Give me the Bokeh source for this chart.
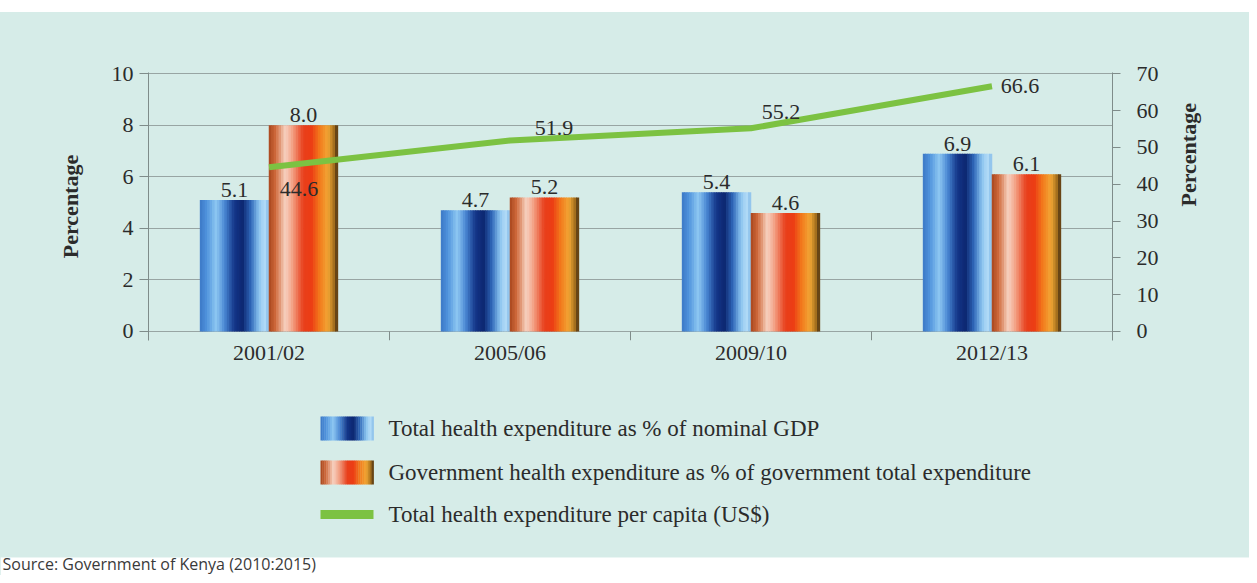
import math
import numpy as np
from bokeh.plotting import figure
from bokeh.models import FactorRange, Range1d, LinearAxis, FixedTicker, ColumnDataSource
from bokeh.transform import dodge
from bokeh.layouts import column, row, Spacer
from bokeh.core.properties import value
from bokeh.embed import file_html
from bokeh.resources import INLINE

# ---------------- data ----------------
years = ["2001/02", "2005/06", "2009/10", "2012/13"]
gdp_share = [5.1, 4.7, 5.4, 6.9]          # Total health expenditure as % of nominal GDP
gov_share = [8.0, 5.2, 4.6, 6.1]          # Government health exp. as % of gov. total exp.
per_capita = [44.6, 51.9, 55.2, 66.6]     # Total health expenditure per capita (US$)
left_ticks = [0, 2, 4, 6, 8, 10]
right_ticks = [0, 10, 20, 30, 40, 50, 60, 70]
legend_labels = [
    "Total health expenditure as % of nominal GDP",
    "Government health expenditure as % of government total expenditure",
    "Total health expenditure per capita (US$)",
]
y_title = "Percentage"
source_note = "Source: Government of Kenya (2010:2015)"

# ---------------- style ----------------
BG = "#d6ece8"
SERIF = "Liberation Serif"
TXT = "#2b2b2b"
AXIS = "#7f8c8a"
GRID = "#98a5a3"
GREEN = "#7cc242"
BLUE_STOPS = [(0.00, "#3b78c6"), (0.10, "#4f93dc"), (0.24, "#8fc8f2"), (0.36, "#4a88d4"),
              (0.50, "#14378a"), (0.62, "#0c2670"), (0.74, "#2e66b8"), (0.86, "#8ac4ef"),
              (0.94, "#b4dcf7"), (1.00, "#86bde9")]
ORANGE_STOPS = [(0.00, "#a8461c"), (0.10, "#d06a3c"), (0.24, "#f7d2c2"), (0.34, "#f3a488"),
                (0.50, "#e8401c"), (0.62, "#ec3c14"), (0.74, "#f27a1c"), (0.86, "#f2a634"),
                (0.94, "#b07820"), (1.00, "#4a3010")]
NSLICE = 28
BAR_W = 0.285
BAR_OFF = 0.143
LINE_LBL_DX = [30, 44, 30, 28]
LINE_LBL_DY = [22, -12, -16, 0]


def hex2rgb(h):
    h = h.lstrip("#")
    return np.array([int(h[i:i + 2], 16) for i in (0, 2, 4)], dtype=float)


def gradient(stops, n):
    pos = np.array([s[0] for s in stops])
    cols = np.array([hex2rgb(s[1]) for s in stops])
    out = []
    for t in (np.arange(n) + 0.5) / n:
        rgb = [np.interp(t, pos, cols[:, k]) for k in range(3)]
        out.append("#%02x%02x%02x" % tuple(int(round(c)) for c in rgb))
    return out


W = 1249
TOP = 12          # white paper strip above the panel
H1 = 398 - TOP
H2 = 177

# ---------------- main chart ----------------
p = figure(width=W, height=H1, x_range=FactorRange(factors=years, range_padding=0),
           y_range=Range1d(-0.35, 10.05), output_backend="svg", toolbar_location=None,
           min_border_left=148, min_border_right=W - 1112, min_border_top=72 - TOP,
           min_border_bottom=58)
p.extra_y_ranges = {"usd": Range1d(-0.35 * 7, 10.05 * 7)}
p.background_fill_color = BG
p.border_fill_color = BG
p.outline_line_color = None
p.xgrid.visible = False
p.ygrid.grid_line_color = GRID
p.ygrid.grid_line_width = 1

src = ColumnDataSource(dict(
    x=years, gdp=gdp_share, gov=gov_share, pc=per_capita,
    gdp_lbl=[f"{v:.1f}" for v in gdp_share],
    gov_lbl=[f"{v:.1f}" for v in gov_share],
    pc_lbl=[f"{v:.1f}" for v in per_capita],
    dx=LINE_LBL_DX, dy=LINE_LBL_DY,
))

# category boundary ticks
bsrc = ColumnDataSource(dict(x=years[1:]))
p.segment(x0=dodge("x", -0.5, range=p.x_range), y0=0, x1=dodge("x", -0.5, range=p.x_range),
          y1=-0.35, source=bsrc, line_color=AXIS, line_width=1)

# gradient bars (sliced)
for field, center, stops in (("gdp", -BAR_OFF, BLUE_STOPS), ("gov", BAR_OFF, ORANGE_STOPS)):
    sw = BAR_W / NSLICE
    for i, c in enumerate(gradient(stops, NSLICE)):
        off = center - BAR_W / 2 + (i + 0.5) * sw
        p.vbar(x=dodge("x", off, range=p.x_range), top=field, bottom=0, width=sw * 1.3,
               source=src, fill_color=c, line_color=None)

# bar value labels
for field, lbl, center in (("gdp", "gdp_lbl", -BAR_OFF), ("gov", "gov_lbl", BAR_OFF)):
    p.text(x=dodge("x", center, range=p.x_range), y=field, text=lbl, source=src,
           text_align="center", text_baseline="bottom", y_offset=-3,
           text_font=value(SERIF), text_font_size="22px", text_color=TXT)

# per-capita line
p.line(x="x", y="pc", source=src, y_range_name="usd", line_color=GREEN, line_width=6)
p.text(x="x", y="pc", text="pc_lbl", source=src, y_range_name="usd",
       x_offset="dx", y_offset="dy", text_align="center", text_baseline="middle",
       text_font=value(SERIF), text_font_size="22px", text_color=TXT)


def style_axis(ax):
    ax.axis_line_color = AXIS
    ax.major_tick_line_color = AXIS
    ax.minor_tick_line_color = None
    ax.major_label_text_font = SERIF
    ax.major_label_text_font_size = "22px"
    ax.major_label_text_color = TXT
    ax.axis_label_text_font = SERIF
    ax.axis_label_text_font_size = "22px"
    ax.axis_label_text_font_style = "bold"
    ax.axis_label_text_color = TXT


ly = p.yaxis[0]
ly.ticker = FixedTicker(ticks=left_ticks)
style_axis(ly)
ly.axis_label = y_title
ly.major_tick_out = 9
ly.major_tick_in = 0
ly.major_label_standoff = 6
ly.axis_label_standoff = 26

ry = LinearAxis(y_range_name="usd", ticker=FixedTicker(ticks=right_ticks))
style_axis(ry)
ry.axis_label = y_title
ry.axis_label_orientation = math.pi / 2
ry.major_tick_out = 8
ry.major_tick_in = 0
ry.major_label_standoff = 16
ry.axis_label_standoff = 27
p.add_layout(ry, "right")

xa = p.xaxis[0]
style_axis(xa)
xa.axis_line_color = None
xa.major_tick_line_color = None
xa.major_label_standoff = -7

# ---------------- legend panel ----------------
Y0 = 398
q = figure(width=W, height=H2, x_range=Range1d(0, W), y_range=Range1d(Y0 + H2, Y0),
           output_backend="svg", toolbar_location=None,
           min_border=0, min_border_left=0, min_border_right=0, min_border_top=0, min_border_bottom=0)
q.axis.visible = False
q.grid.visible = False
q.outline_line_color = None
q.background_fill_color = BG
q.border_fill_color = BG

# white strip with the source note
q.quad(left=[0], right=[W], top=[557], bottom=[Y0 + H2 + 5], fill_color="white", line_color=None)
q.text(x=[2], y=[563], text=[source_note], text_font=value("Open Sans"), text_font_size="16px",
       text_color="#3a3a3a", text_baseline="middle", text_align="left")

rows = [428, 472, 514]
sx0, sx1 = 320, 373
for stops, yc in ((BLUE_STOPS, rows[0]), (ORANGE_STOPS, rows[1])):
    cols = gradient(stops, NSLICE)
    step = (sx1 - sx0) / NSLICE
    q.quad(left=[sx0 + i * step for i in range(NSLICE)],
           right=[sx0 + (i + 1) * step + 0.4 for i in range(NSLICE)],
           top=[yc - 12] * NSLICE, bottom=[yc + 12] * NSLICE,
           fill_color=cols, line_color=None)
q.quad(left=[sx0], right=[sx1], top=[rows[2] - 4.5], bottom=[rows[2] + 4.5], fill_color=GREEN, line_color=None)
q.text(x=[388] * 3, y=rows, text=legend_labels, text_font=value(SERIF), text_font_size="23px",
       text_color=TXT, text_baseline="middle", text_align="left")

top_strip = Spacer(width=W, height=TOP, styles={"background-color": "white"})
body = column(p, row(q, spacing=0), spacing=0, styles={"background-color": BG})
layout = column(top_strip, body, spacing=0)
open("out.html", "w").write(file_html(layout, INLINE))
